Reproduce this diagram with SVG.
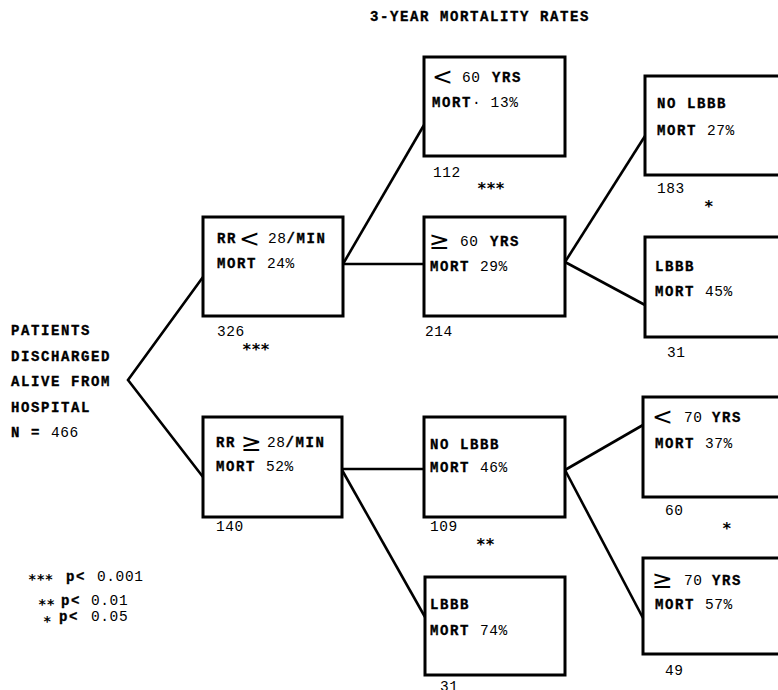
<svg xmlns="http://www.w3.org/2000/svg" width="778" height="690" viewBox="0 0 778 690">
<style>
.box { fill: #fff; stroke: #000; stroke-width: 3; }
.ln { fill: none; stroke: #000; stroke-width: 2.6; }
.b { font-family: "Liberation Mono", monospace; font-weight: bold; font-size: 14px; letter-spacing: 1.6px; fill: #000; stroke: #000; stroke-width: 0.35; }
.n { font-family: "Liberation Mono", monospace; font-weight: normal; font-size: 14.5px; letter-spacing: 0.6px; fill: #000; stroke: none; }
.s { font-family: "DejaVu Sans", sans-serif; font-size: 25px; fill: #000; }
.st { font-family: "DejaVu Sans Mono", monospace; font-weight: bold; font-size: 16px; letter-spacing: -0.5px; fill: #000; }
.sl { font-family: "DejaVu Sans Mono", monospace; font-weight: bold; font-size: 14px; letter-spacing: 0px; fill: #000; }
</style>
<rect width="778" height="690" fill="#fff"/>

<text class="b" x="370" y="21">3-YEAR MORTALITY RATES</text>

<g id="root">
<text class="b" x="11" y="335">PATIENTS</text>
<text class="b" x="11" y="361">DISCHARGED</text>
<text class="b" x="11" y="386">ALIVE FROM</text>
<text class="b" x="11" y="412">HOSPITAL</text>
<text class="b" x="11" y="437">N = <tspan class="n">466</tspan></text>
</g>

<g id="connectors">
<polyline class="ln" points="203,277 128,380 203,477"/>
<line class="ln" x1="343" y1="264" x2="424" y2="264" stroke-width="4.2"/>
<line class="ln" x1="343" y1="264" x2="424" y2="125"/>
<line class="ln" x1="565" y1="262" x2="645" y2="136"/>
<line class="ln" x1="565" y1="262" x2="645" y2="305"/>
<line class="ln" x1="342" y1="469" x2="424" y2="469"/>
<line class="ln" x1="342" y1="470" x2="425" y2="617"/>
<line class="ln" x1="565" y1="470" x2="643" y2="425"/>
<line class="ln" x1="565" y1="470" x2="643" y2="618"/>
</g>

<g id="rr-lt-28">
<rect class="box" x="203" y="217" width="140" height="99"/>
<text class="b" x="217" y="243">RR</text>
<text class="s" x="239" y="247">&lt;</text>
<text class="b" x="268" y="243"><tspan class="n">28</tspan>/MIN</text>
<text class="b" x="217" y="268">MORT <tspan class="n">24%</tspan></text>
<text class="n" x="217" y="336">326</text>
<text class="st" x="242" y="355">***</text>
</g>

<g id="lt-60">
<rect class="box" x="424" y="57" width="141" height="99"/>
<text class="s" x="432" y="85">&lt;</text>
<text class="n" x="462" y="82">60</text>
<text class="b" x="492" y="82">YRS</text>
<text class="b" x="432" y="107">MORT<tspan class="n">· 13%</tspan></text>
<text class="n" x="433" y="177">112</text>
<text class="st" x="477" y="194">***</text>
</g>

<g id="ge-60">
<rect class="box" x="424" y="217" width="141" height="99"/>
<text class="s" x="429" y="249">≥</text>
<text class="n" x="460" y="246">60</text>
<text class="b" x="490" y="246">YRS</text>
<text class="b" x="430" y="271">MORT <tspan class="n">29%</tspan></text>
<text class="n" x="425" y="336">214</text>
</g>

<g id="no-lbbb-top">
<rect class="box" x="645" y="76" width="150" height="99"/>
<text class="b" x="657" y="108">NO LBBB</text>
<text class="b" x="657" y="135">MORT <tspan class="n">27%</tspan></text>
<text class="n" x="657" y="193">183</text>
<text class="st" x="704" y="212">*</text>
</g>

<g id="lbbb-top">
<rect class="box" x="645" y="237" width="150" height="100"/>
<text class="b" x="655" y="271">LBBB</text>
<text class="b" x="655" y="296">MORT <tspan class="n">45%</tspan></text>
<text class="n" x="667" y="357">31</text>
</g>

<g id="rr-ge-28">
<rect class="box" x="203" y="417" width="139" height="100"/>
<text class="b" x="216" y="447">RR</text>
<text class="s" x="241" y="451">≥</text>
<text class="b" x="267" y="447"><tspan class="n">28</tspan>/MIN</text>
<text class="b" x="216" y="471">MORT <tspan class="n">52%</tspan></text>
<text class="n" x="216" y="531">140</text>
</g>

<g id="no-lbbb-mid">
<rect class="box" x="424" y="417" width="141" height="100"/>
<text class="b" x="430" y="449">NO LBBB</text>
<text class="b" x="430" y="472">MORT <tspan class="n">46%</tspan></text>
<text class="n" x="430" y="531">109</text>
<text class="st" x="476" y="550">**</text>
</g>

<g id="lbbb-bottom">
<rect class="box" x="425" y="577" width="140" height="98"/>
<text class="b" x="430" y="609">LBBB</text>
<text class="b" x="430" y="635">MORT <tspan class="n">74%</tspan></text>
<text class="n" x="440" y="691">31</text>
</g>

<g id="lt-70">
<rect class="box" x="643" y="397" width="150" height="100"/>
<text class="s" x="652" y="425">&lt;</text>
<text class="n" x="684" y="422">70</text>
<text class="b" x="712" y="422">YRS</text>
<text class="b" x="655" y="448">MORT <tspan class="n">37%</tspan></text>
<text class="n" x="665" y="515">60</text>
<text class="st" x="722" y="534">*</text>
</g>

<g id="ge-70">
<rect class="box" x="643" y="558" width="150" height="96"/>
<text class="s" x="652" y="588">≥</text>
<text class="n" x="684" y="585">70</text>
<text class="b" x="712" y="585">YRS</text>
<text class="b" x="655" y="609">MORT <tspan class="n">57%</tspan></text>
<text class="n" x="665" y="675">49</text>
</g>

<g id="legend">
<text class="sl" x="28" y="584">***</text>
<text class="b" x="66" y="581">p&lt;</text>
<text class="n" x="97" y="581">0.001</text>
<text class="sl" x="38" y="609">**</text>
<text class="b" x="61" y="605">p&lt;</text>
<text class="n" x="91" y="605">0.01</text>
<text class="sl" x="43" y="626">*</text>
<text class="b" x="59" y="621">p&lt;</text>
<text class="n" x="91" y="621">0.05</text>
</g>
</svg>
